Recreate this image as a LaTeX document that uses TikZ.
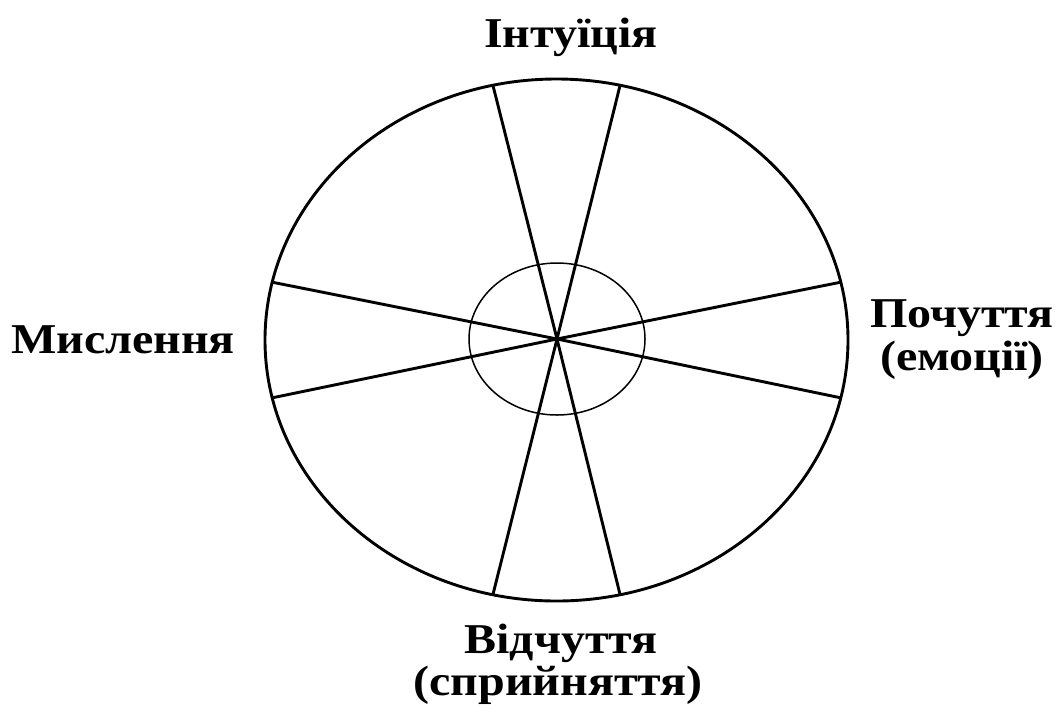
\documentclass[tikz,border=0pt]{standalone}
\usepackage{fontspec}
\setmainfont{Liberation Serif}[FakeStretch=1.13]
\begin{document}
\begin{tikzpicture}[x=1pt,y=-1pt,
  lbl/.style={font=\bfseries\fontsize{42.5}{44}\selectfont, inner sep=0pt, anchor=base},
  rim/.style={line width=2.9pt},
  spoke/.style={line width=2.9pt},
  inner/.style={line width=1.5pt}]
\useasboundingbox (0,0) rectangle (1059,713);
\coordinate (c) at (557,339);
\draw[rim] (556.5,340) ellipse [x radius=291.5, y radius=261];
\draw[inner] (557,339) ellipse [x radius=88, y radius=76];
\foreach \a/\n in {77.4/p1,102.6/p2,167.2/p3,192.8/p4,257.4/p5,282.6/p6,347.2/p7,12.8/p8}{
  \coordinate (\n) at ({556.5+291.5*cos(\a)},{340-261*sin(\a)});
}
\foreach \n in {p1,p2,p3,p4,p5,p6,p7,p8}{\draw[spoke] (c) -- (\n);}
\node[lbl] (t) at (571,47) {Інтуїція};
\node[lbl] (l) at (123,353) {Мислення};
\node[lbl] (r1) at (962,327) {Почуття};
\node[lbl] (r2) at (962,370) {(емоції)};
\node[lbl] (b1) at (561,653) {Відчуття};
\node[lbl] (b2) at (558,695) {(сприйняття)};
\end{tikzpicture}
\end{document}
